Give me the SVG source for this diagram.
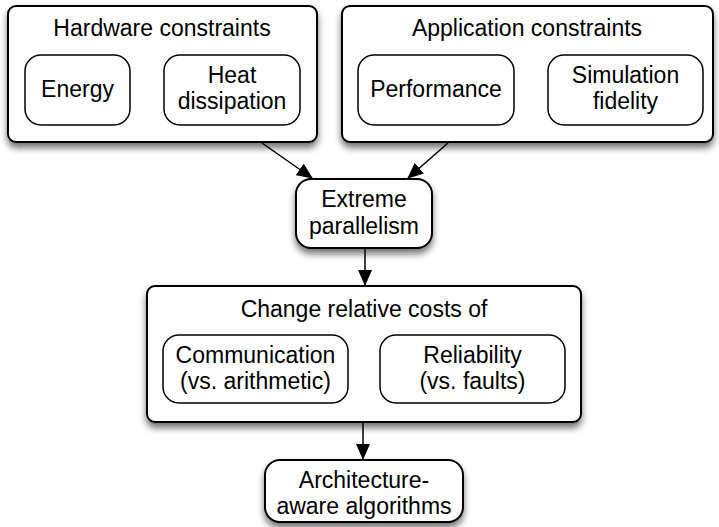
<svg xmlns="http://www.w3.org/2000/svg" width="719" height="527" viewBox="0 0 719 527">
<defs>
<filter id="sh" x="-10%" y="-15%" width="120%" height="140%">
<feDropShadow dx="0" dy="5" stdDeviation="3.5" flood-color="#000" flood-opacity="0.55"/>
</filter>
<marker id="ah" markerUnits="userSpaceOnUse" markerWidth="16" markerHeight="14" refX="15" refY="7" orient="auto">
<path d="M0,0 L16,7 L0,14 Z" fill="#000"/>
</marker>
<style>
.outer{fill:#fff;stroke:#000;stroke-width:2;filter:url(#sh)}
.inner{fill:#fff;stroke:#000;stroke-width:1.5}
text{font-family:"Liberation Sans",Arial,sans-serif;font-size:23px;fill:#000;text-anchor:middle}
.conn line{stroke:#000;stroke-width:1.5}
</style>
</defs>
<rect width="719" height="527" fill="#fff"/>
<g id="hardware">
<rect class="outer" x="8" y="6" width="309" height="136" rx="8"/>
<text x="162" y="36">Hardware constraints</text>
</g>
<g id="energy">
<rect class="inner" x="25" y="55" width="105" height="70" rx="16"/>
<text x="77.5" y="97">Energy</text>
</g>
<g id="heat">
<rect class="inner" x="164" y="55" width="136" height="70" rx="16"/>
<text x="232" y="83">Heat</text>
<text x="232" y="109">dissipation</text>
</g>
<g id="application">
<rect class="outer" x="342" y="6" width="371" height="136" rx="8"/>
<text x="527" y="36">Application constraints</text>
</g>
<g id="performance">
<rect class="inner" x="358" y="55" width="156" height="70" rx="16"/>
<text x="436" y="97">Performance</text>
</g>
<g id="simulation">
<rect class="inner" x="548" y="55" width="155" height="70" rx="16"/>
<text x="625.5" y="83">Simulation</text>
<text x="625.5" y="109">fidelity</text>
</g>
<g id="extreme">
<rect class="outer" x="296" y="179" width="136" height="69" rx="15"/>
<text x="364" y="207">Extreme</text>
<text x="364" y="234">parallelism</text>
</g>
<g id="change">
<rect class="outer" x="147" y="286" width="434" height="136" rx="8"/>
<text x="364" y="317">Change relative costs of</text>
</g>
<g id="communication">
<rect class="inner" x="163" y="335" width="185" height="68" rx="16"/>
<text x="255.5" y="363">Communication</text>
<text x="255.5" y="389">(vs. arithmetic)</text>
</g>
<g id="reliability">
<rect class="inner" x="380" y="335" width="185" height="68" rx="16"/>
<text x="472.5" y="363">Reliability</text>
<text x="472.5" y="389">(vs. faults)</text>
</g>
<g id="architecture">
<rect class="outer" x="265" y="460" width="198" height="62" rx="15"/>
<text x="364" y="488">Architecture-</text>
<text x="364" y="514">aware algorithms</text>
</g>
<g class="conn" id="connectors">
<line x1="262" y1="143" x2="312" y2="178" marker-end="url(#ah)"/>
<line x1="448" y1="143" x2="408" y2="178" marker-end="url(#ah)"/>
<line x1="365" y1="248" x2="365" y2="285" marker-end="url(#ah)"/>
<line x1="363" y1="422" x2="363" y2="459" marker-end="url(#ah)"/>
</g>
</svg>
